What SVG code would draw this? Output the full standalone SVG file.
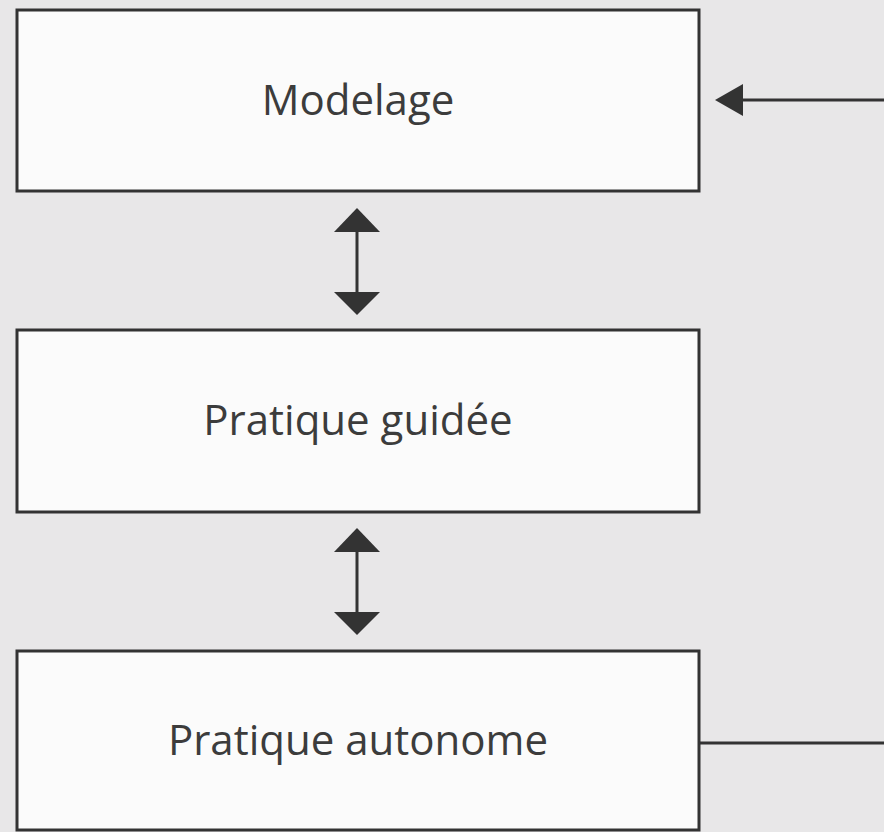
<svg xmlns="http://www.w3.org/2000/svg" width="884" height="832" viewBox="0 0 884 832">
<defs>
<style>
.box{fill:#fbfbfb;stroke:#333;stroke-width:3}
.lbl{font-family:"Open Sans","Noto Sans",sans-serif;font-size:42px;fill:#3c3c3c;text-anchor:middle}
.con{fill:none;stroke:#333;stroke-width:3}
.head{fill:#333}
</style>
</defs>
<rect width="884" height="832" fill="#e8e7e8"/>
<g id="modelage">
<rect class="box" x="17" y="10" width="682" height="181"/>
<text class="lbl" x="358" y="115">Modelage</text>
</g>
<g id="pratique-guidee">
<rect class="box" x="17" y="330" width="682" height="182"/>
<text class="lbl" x="358" y="435">Pratique guidée</text>
</g>
<g id="pratique-autonome">
<rect class="box" x="17" y="651" width="682" height="179"/>
<text class="lbl" x="358" y="755">Pratique autonome</text>
</g>
<g id="connectors">
<line class="con" x1="357" y1="228" x2="357" y2="296"/>
<polygon class="head" points="357,208 380,232 334,232"/>
<polygon class="head" points="357,315 380,292 334,292"/>
<line class="con" x1="357" y1="548" x2="357" y2="614"/>
<polygon class="head" points="357,528 380,552 334,552"/>
<polygon class="head" points="357,635 380,612 334,612"/>
<path class="con" d="M699,743 H900 V100 H735"/>
<polygon class="head" points="715,100 743,84 743,116"/>
</g>
</svg>
